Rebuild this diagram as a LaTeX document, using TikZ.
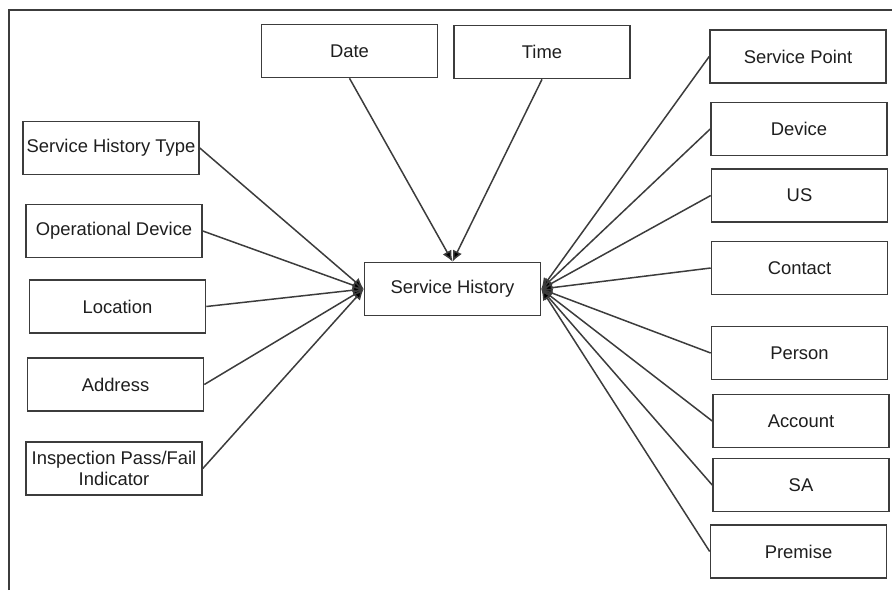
\documentclass[tikz,border=0pt]{standalone}
\usepackage{fontspec}
\setmainfont{Liberation Sans}
\usetikzlibrary{arrows.meta}
\usepackage{xcolor}
\definecolor{linegray}{RGB}{60,60,60}
\definecolor{textgray}{RGB}{30,30,30}

\begin{document}
\begin{tikzpicture}[x=0.5pt, y=-0.5pt,
        entity/.style={draw=linegray, line width=0.8pt, fill=white, minimum width=88pt, minimum height=26.5pt, inner sep=1pt, align=center, text=textgray, font=\fontsize{9.2}{10.5}\selectfont},
        link/.style={-{Latex[length=5.5pt, width=5pt, fill=black]}, draw=linegray, line width=0.75pt}]
        \useasboundingbox (0,0) rectangle (892,590);

        % Frame (left and top edges only)
        \coordinate (fbl) at (9,590);
        \coordinate (ftl) at (9,10);
        \coordinate (ftr) at (892,10);
        \draw[linegray, line width=1pt] (fbl) -- (ftl) -- (ftr);

        % Central entity
        \node[entity] (hist) at (452.5,289) {Service History};

        % Top entities
        \node[entity] (date) at (349.5,51) {Date};
        \node[entity] (time) at (542,52) {Time};

        % Left entities
        \node[entity] (htype) at (111,148) {Service History Type};
        \node[entity] (opdev) at (114,231) {Operational Device};
        \node[entity] (loc) at (117.5,306.5) {Location};
        \node[entity] (addr) at (115.5,384.5) {Address};
        \node[entity] (insp) at (114,468.5) {Inspection Pass/Fail\\Indicator};

        % Right entities
        \node[entity] (spoint) at (798,56.5) {Service Point};
        \node[entity] (device) at (799,129) {Device};
        \node[entity] (us) at (799.5,195.5) {US};
        \node[entity] (contact) at (799.5,268) {Contact};
        \node[entity] (person) at (799.5,353) {Person};
        \node[entity] (account) at (801,421) {Account};
        \node[entity] (sa) at (801,485) {SA};
        \node[entity] (premise) at (798.5,551.5) {Premise};

        % Arrows
        \draw[link] (date.south) -- (hist.north);
        \draw[link] (time.south) -- (hist.north);

        \draw[link] (htype.east) -- (hist.west);
        \draw[link] (opdev.east) -- (hist.west);
        \draw[link] (loc.east) -- (hist.west);
        \draw[link] (addr.east) -- (hist.west);
        \draw[link] (insp.east) -- (hist.west);

        \draw[link] (spoint.west) -- (hist.east);
        \draw[link] (device.west) -- (hist.east);
        \draw[link] (us.west) -- (hist.east);
        \draw[link] (contact.west) -- (hist.east);
        \draw[link] (person.west) -- (hist.east);
        \draw[link] (account.west) -- (hist.east);
        \draw[link] (sa.west) -- (hist.east);
        \draw[link] (premise.west) -- (hist.east);

    \end{tikzpicture}
\end{document}
